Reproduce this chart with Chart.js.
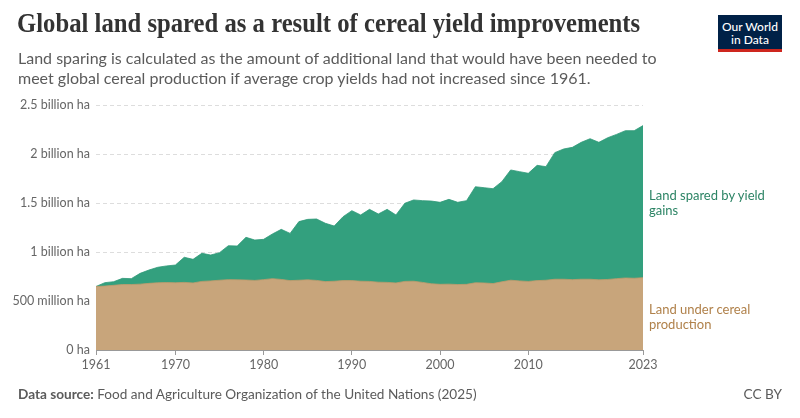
<!DOCTYPE html>
<html>
<head>
<meta charset="utf-8">
<script src="https://cdn.jsdelivr.net/npm/chart.js@4.4.1/dist/chart.umd.min.js"></script>
<style>
  body { margin: 0; background: #fff; font-family: Lato, sans-serif; }
  #wrap { position: relative; width: 800px; height: 418px; overflow: hidden; }
  #chartBox { position: absolute; left: 0; top: 0; width: 800px; height: 418px; }
  .title { position: absolute; left: 17px; top: 8px; font-family: "Liberation Serif", serif; font-weight: bold; font-size: 26.5px; color: #333; white-space: nowrap; transform: scaleX(0.932); transform-origin: left top; }
  .subtitle { position: absolute; left: 18px; top: 48px; font-size: 16px; line-height: 20px; color: #5b5b5b; }
  .logo { position: absolute; left: 718px; top: 15px; width: 64px; height: 37px; background: #002147; border-bottom: 3px solid #ce261e; color: #fff; font-size: 12px; line-height: 13px; text-align: center; box-sizing: border-box; padding-top: 5px; font-weight: 500; }
  .lab { position: absolute; left: 649px; font-size: 13px; line-height: 15px; }
  .footer { position: absolute; top: 386px; font-size: 13.6px; color: #5b5b5b; }
</style>
</head>
<body>
<div id="wrap">
  <div id="chartBox"><canvas id="landChart"></canvas></div>
  <div class="title">Global land spared as a result of cereal yield improvements</div>
  <div class="subtitle">Land sparing is calculated as the amount of additional land that would have been needed to<br>meet global cereal production if average crop yields had not increased since 1961.</div>
  <div class="logo">Our World<br>in Data</div>
  <div class="lab" style="top:188px; color:#2c8465;">Land spared by yield<br>gains</div>
  <div class="lab" style="top:302px; color:#b0814a;">Land under cereal<br>production</div>
  <div class="footer" style="left:18px;"><b>Data source:</b> Food and Agriculture Organization of the United Nations (2025)</div>
  <div class="footer" style="right:18px;">CC BY</div>
</div>
<script>
// DATA (million hectares)
const years = [];
for (let y = 1961; y <= 2023; y++) years.push(y);

const landUnderCereal = [
  648, 652, 660, 668, 668, 672, 680, 686, 688, 686,
  690, 684, 700, 705, 712, 718, 716, 714, 710, 718,
  728, 720, 708, 712, 716, 710, 698, 702, 708, 708,
  702, 700, 692, 690, 684, 700, 702, 690, 676, 670,
  672, 668, 670, 686, 684, 678, 696, 712, 705, 700,
  708, 712, 722, 722, 718, 722, 722, 716, 720, 728,
  735, 732, 738
];

// land that would have been needed without yield gains (cereal land + spared)
const landNeeded = [
  648, 687, 697, 731, 728, 782, 816, 844, 858, 867,
  946, 925, 987, 969, 993, 1064, 1061, 1150, 1122, 1129,
  1184, 1231, 1190, 1310, 1333, 1337, 1293, 1265, 1360, 1422,
  1378, 1435, 1388, 1435, 1378, 1497, 1531, 1524, 1520, 1507,
  1537, 1507, 1524, 1666, 1656, 1646, 1718, 1837, 1820, 1803,
  1884, 1871, 2014, 2051, 2068, 2119, 2156, 2119, 2166, 2200,
  2238, 2238, 2290
];

const xTicks = [1961, 1970, 1980, 1990, 2000, 2010, 2023];
const yTickValues = [0, 500, 1000, 1500, 2000, 2500];
const yTickLabels = ['0 ha', '500 million ha', '1 billion ha', '1.5 billion ha', '2 billion ha', '2.5 billion ha'];

const toPoints = arr => arr.map((v, i) => ({ x: years[i], y: v }));

Chart.defaults.font.family = 'Lato';
Chart.defaults.color = '#666';

const ctx = document.getElementById('landChart').getContext('2d');
new Chart(ctx, {
  type: 'line',
  data: {
    datasets: [
      {
        label: 'Land under cereal production',
        data: toPoints(landUnderCereal),
        borderColor: '#c09a6c',
        borderWidth: 0.8,
        backgroundColor: '#c8a57b',
        fill: 'origin',
        pointRadius: 0,
        tension: 0
      },
      {
        label: 'Land spared by yield gains',
        data: toPoints(landNeeded),
        borderColor: '#2e9877',
        borderWidth: 0.8,
        backgroundColor: '#33a07e',
        fill: 'origin',
        pointRadius: 0,
        tension: 0
      }
    ]
  },
  options: {
    responsive: true,
    maintainAspectRatio: false,
    animation: false,
    layout: { padding: { left: 0, right: 157, top: 105, bottom: 0 } },
    plugins: { legend: { display: false }, tooltip: { enabled: false } },
    scales: {
      x: {
        type: 'linear',
        min: 1961,
        max: 2023,
        afterBuildTicks: axis => { axis.ticks = xTicks.map(v => ({ value: v })); },
        afterFit: axis => { axis.height = 68; },
        ticks: { font: { size: 12.5 }, color: '#666', padding: 2, maxRotation: 0, callback: v => String(v) },
        grid: { drawOnChartArea: false, drawTicks: true, tickLength: 5, color: '#999' },
        border: { color: '#999' }
      },
      y: {
        min: 0,
        max: 2500,
        afterBuildTicks: axis => { axis.ticks = yTickValues.map(v => ({ value: v })); },
        afterFit: axis => { axis.width = 96; },
        ticks: {
          font: { size: 12.5 },
          color: '#666',
          padding: 6,
          callback: v => yTickLabels[yTickValues.indexOf(v)]
        },
        grid: { color: '#dddddd', drawTicks: false },
        border: { display: false, dash: [4, 3] }
      }
    }
  }
});
</script>
</body>
</html>
